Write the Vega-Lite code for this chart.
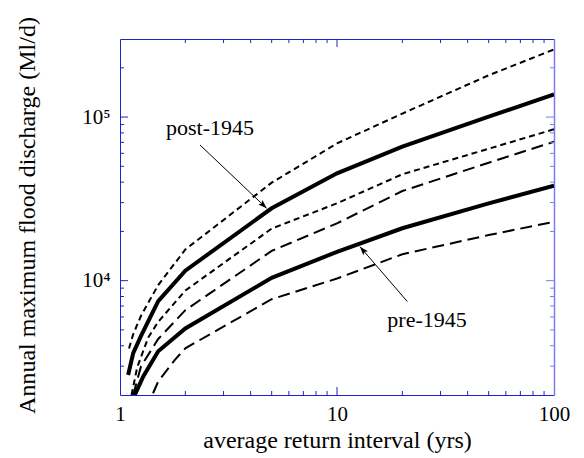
{
  "$schema": "https://vega.github.io/schema/vega-lite/v6.json",
  "width": 434,
  "height": 356,
  "autosize": "none",
  "padding": {"left": 120, "top": 39, "right": 30, "bottom": 63},
  "background": "white",
  "config": {
    "view": {"stroke": null},
    "font": "Liberation Serif",
    "axis": {"grid": false, "labelFont": "Liberation Serif", "titleFont": "Liberation Serif", "titleFontWeight": "normal", "labelColor": "black", "titleColor": "black", "labelFlush": false, "labelOverlap": false}
  },
  "datasets": {
    "curves": [
      {"series": "A", "interval": 1.1, "discharge": 3850},
      {"series": "A", "interval": 1.15, "discharge": 4700},
      {"series": "A", "interval": 1.25, "discharge": 6100},
      {"series": "A", "interval": 1.5, "discharge": 9400},
      {"series": "A", "interval": 2, "discharge": 15500},
      {"series": "A", "interval": 5, "discharge": 39700},
      {"series": "A", "interval": 10, "discharge": 69000},
      {"series": "A", "interval": 20, "discharge": 105000},
      {"series": "A", "interval": 50, "discharge": 180000},
      {"series": "A", "interval": 100, "discharge": 259000},
      {"series": "B", "interval": 1.09, "discharge": 2650},
      {"series": "B", "interval": 1.15, "discharge": 3600},
      {"series": "B", "interval": 1.25, "discharge": 4600},
      {"series": "B", "interval": 1.5, "discharge": 7500},
      {"series": "B", "interval": 2, "discharge": 11500},
      {"series": "B", "interval": 5, "discharge": 27700},
      {"series": "B", "interval": 10, "discharge": 45300},
      {"series": "B", "interval": 20, "discharge": 65900},
      {"series": "B", "interval": 50, "discharge": 100500},
      {"series": "B", "interval": 100, "discharge": 137500},
      {"series": "C", "interval": 1.13, "discharge": 2000},
      {"series": "C", "interval": 1.2, "discharge": 2950},
      {"series": "C", "interval": 1.35, "discharge": 4500},
      {"series": "C", "interval": 1.5, "discharge": 5600},
      {"series": "C", "interval": 2, "discharge": 8700},
      {"series": "C", "interval": 5, "discharge": 20800},
      {"series": "C", "interval": 10, "discharge": 29700},
      {"series": "C", "interval": 20, "discharge": 44700},
      {"series": "C", "interval": 50, "discharge": 64000},
      {"series": "C", "interval": 100, "discharge": 84200},
      {"series": "D", "interval": 1.15, "discharge": 2000},
      {"series": "D", "interval": 1.25, "discharge": 3000},
      {"series": "D", "interval": 1.5, "discharge": 4400},
      {"series": "D", "interval": 2, "discharge": 6600},
      {"series": "D", "interval": 5, "discharge": 15200},
      {"series": "D", "interval": 10, "discharge": 22400},
      {"series": "D", "interval": 20, "discharge": 35300},
      {"series": "D", "interval": 50, "discharge": 52600},
      {"series": "D", "interval": 100, "discharge": 70600},
      {"series": "E", "interval": 1.17, "discharge": 2000},
      {"series": "E", "interval": 1.28, "discharge": 2600},
      {"series": "E", "interval": 1.5, "discharge": 3700},
      {"series": "E", "interval": 2, "discharge": 5100},
      {"series": "E", "interval": 5, "discharge": 10400},
      {"series": "E", "interval": 10, "discharge": 15000},
      {"series": "E", "interval": 20, "discharge": 20900},
      {"series": "E", "interval": 50, "discharge": 29700},
      {"series": "E", "interval": 100, "discharge": 38000},
      {"series": "F", "interval": 1.42, "discharge": 2050},
      {"series": "F", "interval": 1.5, "discharge": 2420},
      {"series": "F", "interval": 1.79, "discharge": 3280},
      {"series": "F", "interval": 2, "discharge": 3860},
      {"series": "F", "interval": 5, "discharge": 7700},
      {"series": "F", "interval": 10, "discharge": 10300},
      {"series": "F", "interval": 20, "discharge": 14500},
      {"series": "F", "interval": 50, "discharge": 19000},
      {"series": "F", "interval": 100, "discharge": 22900}
    ],
    "arrows": [
      {"name": "post", "x1": 2.337, "y1": 67500, "x2": 4.74, "y2": 27700},
      {"name": "pre", "x1": 21.1, "y1": 7450, "x2": 12.76, "y2": 16130}
    ],
    "labels": [
      {"label": "post-1945", "x": 2.598, "y": 77600},
      {"label": "pre-1945", "x": 26.0, "y": 5240}
    ],
    "xticks": [
      {"v": 2, "kind": "minor"}, {"v": 3, "kind": "minor"}, {"v": 4, "kind": "minor"}, {"v": 5, "kind": "minor"},
      {"v": 6, "kind": "minor"}, {"v": 7, "kind": "minor"}, {"v": 8, "kind": "minor"}, {"v": 9, "kind": "minor"},
      {"v": 10, "kind": "major"},
      {"v": 20, "kind": "minor"}, {"v": 30, "kind": "minor"}, {"v": 40, "kind": "minor"}, {"v": 50, "kind": "minor"},
      {"v": 60, "kind": "minor"}, {"v": 70, "kind": "minor"}, {"v": 80, "kind": "minor"}, {"v": 90, "kind": "minor"}
    ],
    "yticks": [
      {"v": 3000, "kind": "minor"}, {"v": 4000, "kind": "minor"}, {"v": 5000, "kind": "minor"}, {"v": 6000, "kind": "minor"},
      {"v": 7000, "kind": "minor"}, {"v": 8000, "kind": "minor"}, {"v": 9000, "kind": "minor"},
      {"v": 10000, "kind": "major"},
      {"v": 20000, "kind": "minor"}, {"v": 30000, "kind": "minor"}, {"v": 40000, "kind": "minor"}, {"v": 50000, "kind": "minor"},
      {"v": 60000, "kind": "minor"}, {"v": 70000, "kind": "minor"}, {"v": 80000, "kind": "minor"}, {"v": 90000, "kind": "minor"},
      {"v": 100000, "kind": "major"},
      {"v": 200000, "kind": "minor"}
    ]
  },
  "layer": [
    {
      "data": {"name": "curves"},
      "transform": [{"filter": "datum.series == 'B' || datum.series == 'E'"}],
      "mark": {"type": "line", "color": "black", "strokeWidth": 4, "clip": true},
      "encoding": {
        "x": {"field": "interval", "type": "quantitative", "scale": {"type": "log", "domain": [1, 100], "nice": false},
          "axis": {"orient": "bottom", "values": [1, 10, 100], "ticks": false, "labelFontSize": 21, "labelPadding": 8, "format": "d", "domain": true, "domainColor": "#2222cc", "domainWidth": 1, "title": "average return interval (yrs)", "titleFontSize": 24, "titleX": 217, "titleY": 52, "titleBaseline": "alphabetic"}},
        "y": {"field": "discharge", "type": "quantitative", "scale": {"type": "log", "domain": [2000, 300000], "nice": false},
          "axis": {"orient": "left", "values": [10000, 100000], "ticks": false, "labelFontSize": 21, "labelPadding": 10, "labelExpr": "datum.value >= 100000 ? '10⁵' : '10⁴'", "domain": true, "domainColor": "#2222cc", "domainWidth": 1, "title": "Annual maximum flood discharge (Ml/d)", "titleFontSize": 24, "titleAngle": 270, "titleX": -86, "titleY": 176, "titleBaseline": "alphabetic", "titleAlign": "center"}},
        "detail": {"field": "series"}
      }
    },
    {
      "data": {"name": "curves"},
      "transform": [{"filter": "datum.series == 'A' || datum.series == 'C'"}],
      "mark": {"type": "line", "color": "black", "strokeWidth": 2, "strokeDash": [6, 4], "clip": true},
      "encoding": {
        "x": {"field": "interval", "type": "quantitative", "scale": {"type": "log", "domain": [1, 100], "nice": false},
          "axis": {"orient": "top", "values": [1, 100], "labels": false, "ticks": false, "domain": true, "domainColor": "#2222cc", "domainWidth": 1, "title": null}},
        "y": {"field": "discharge", "type": "quantitative", "scale": {"type": "log", "domain": [2000, 300000], "nice": false},
          "axis": {"orient": "right", "values": [2000, 300000], "labels": false, "ticks": false, "domain": true, "domainColor": "#7b7bef", "domainWidth": 1.5, "title": null}},
        "detail": {"field": "series"}
      }
    },
    {
      "data": {"name": "curves"},
      "transform": [{"filter": "datum.series == 'D' || datum.series == 'F'"}],
      "mark": {"type": "line", "color": "black", "strokeWidth": 2, "strokeDash": [12, 6], "clip": true},
      "encoding": {
        "x": {"field": "interval", "type": "quantitative", "scale": {"type": "log", "domain": [1, 100], "nice": false}, "axis": null},
        "y": {"field": "discharge", "type": "quantitative", "scale": {"type": "log", "domain": [2000, 300000], "nice": false}, "axis": null},
        "detail": {"field": "series"}
      }
    },
    {
      "data": {"name": "arrows"},
      "mark": {"type": "rule", "color": "black", "strokeWidth": 1},
      "encoding": {
        "x": {"field": "x1", "type": "quantitative", "scale": {"type": "log", "domain": [1, 100], "nice": false}, "axis": null},
        "y": {"field": "y1", "type": "quantitative", "scale": {"type": "log", "domain": [2000, 300000], "nice": false}, "axis": null},
        "x2": {"field": "x2"},
        "y2": {"field": "y2"}
      }
    },
    {
      "data": {"name": "arrows"},
      "transform": [{"filter": "datum.name == 'post'"}],
      "mark": {"type": "point", "shape": "M0,0 L-0.35,1 L0,0.8 L0.35,1 Z", "filled": true, "color": "black", "opacity": 1, "size": 300, "angle": 133.5},
      "encoding": {
        "x": {"field": "x2", "type": "quantitative", "scale": {"type": "log", "domain": [1, 100], "nice": false}, "axis": null},
        "y": {"field": "y2", "type": "quantitative", "scale": {"type": "log", "domain": [2000, 300000], "nice": false}, "axis": null}
      }
    },
    {
      "data": {"name": "arrows"},
      "transform": [{"filter": "datum.name == 'pre'"}],
      "mark": {"type": "point", "shape": "M0,0 L-0.35,1 L0,0.8 L0.35,1 Z", "filled": true, "color": "black", "opacity": 1, "size": 300, "angle": 319.3},
      "encoding": {
        "x": {"field": "x2", "type": "quantitative", "scale": {"type": "log", "domain": [1, 100], "nice": false}, "axis": null},
        "y": {"field": "y2", "type": "quantitative", "scale": {"type": "log", "domain": [2000, 300000], "nice": false}, "axis": null}
      }
    },
    {
      "data": {"name": "xticks"},
      "mark": {"type": "tick", "orient": "vertical", "color": "#2222cc", "thickness": 1, "opacity": 1, "clip": true},
      "encoding": {
        "x": {"field": "v", "type": "quantitative", "scale": {"type": "log", "domain": [1, 100], "nice": false}, "axis": null},
        "y": {"datum": 2000, "type": "quantitative", "scale": {"type": "log", "domain": [2000, 300000], "nice": false}, "axis": null},
        "size": {"field": "kind", "type": "ordinal", "scale": {"domain": ["major", "minor"], "range": [16, 8]}, "legend": null}
      }
    },
    {
      "data": {"name": "xticks"},
      "mark": {"type": "tick", "orient": "vertical", "color": "#2222cc", "thickness": 1, "opacity": 1, "clip": true},
      "encoding": {
        "x": {"field": "v", "type": "quantitative", "scale": {"type": "log", "domain": [1, 100], "nice": false}, "axis": null},
        "y": {"datum": 300000, "type": "quantitative", "scale": {"type": "log", "domain": [2000, 300000], "nice": false}, "axis": null},
        "size": {"field": "kind", "type": "ordinal", "scale": {"domain": ["major", "minor"], "range": [16, 8]}, "legend": null}
      }
    },
    {
      "data": {"name": "yticks"},
      "mark": {"type": "tick", "orient": "horizontal", "color": "#2222cc", "thickness": 1, "opacity": 1, "clip": true},
      "encoding": {
        "y": {"field": "v", "type": "quantitative", "scale": {"type": "log", "domain": [2000, 300000], "nice": false}, "axis": null},
        "x": {"datum": 1, "type": "quantitative", "scale": {"type": "log", "domain": [1, 100], "nice": false}, "axis": null},
        "size": {"field": "kind", "type": "ordinal", "scale": {"domain": ["major", "minor"], "range": [16, 8]}, "legend": null}
      }
    },
    {
      "data": {"name": "yticks"},
      "mark": {"type": "tick", "orient": "horizontal", "color": "#7b7bef", "thickness": 1, "opacity": 1, "clip": true},
      "encoding": {
        "y": {"field": "v", "type": "quantitative", "scale": {"type": "log", "domain": [2000, 300000], "nice": false}, "axis": null},
        "x": {"datum": 100, "type": "quantitative", "scale": {"type": "log", "domain": [1, 100], "nice": false}, "axis": null},
        "size": {"field": "kind", "type": "ordinal", "scale": {"domain": ["major", "minor"], "range": [16, 8]}, "legend": null}
      }
    },
    {
      "data": {"name": "labels"},
      "mark": {"type": "text", "font": "Liberation Serif", "fontSize": 22, "color": "black", "align": "center", "baseline": "alphabetic"},
      "encoding": {
        "x": {"field": "x", "type": "quantitative", "scale": {"type": "log", "domain": [1, 100], "nice": false}, "axis": null},
        "y": {"field": "y", "type": "quantitative", "scale": {"type": "log", "domain": [2000, 300000], "nice": false}, "axis": null},
        "text": {"field": "label"}
      }
    }
  ],
  "resolve": {"axis": {"x": "independent", "y": "independent"}}
}
